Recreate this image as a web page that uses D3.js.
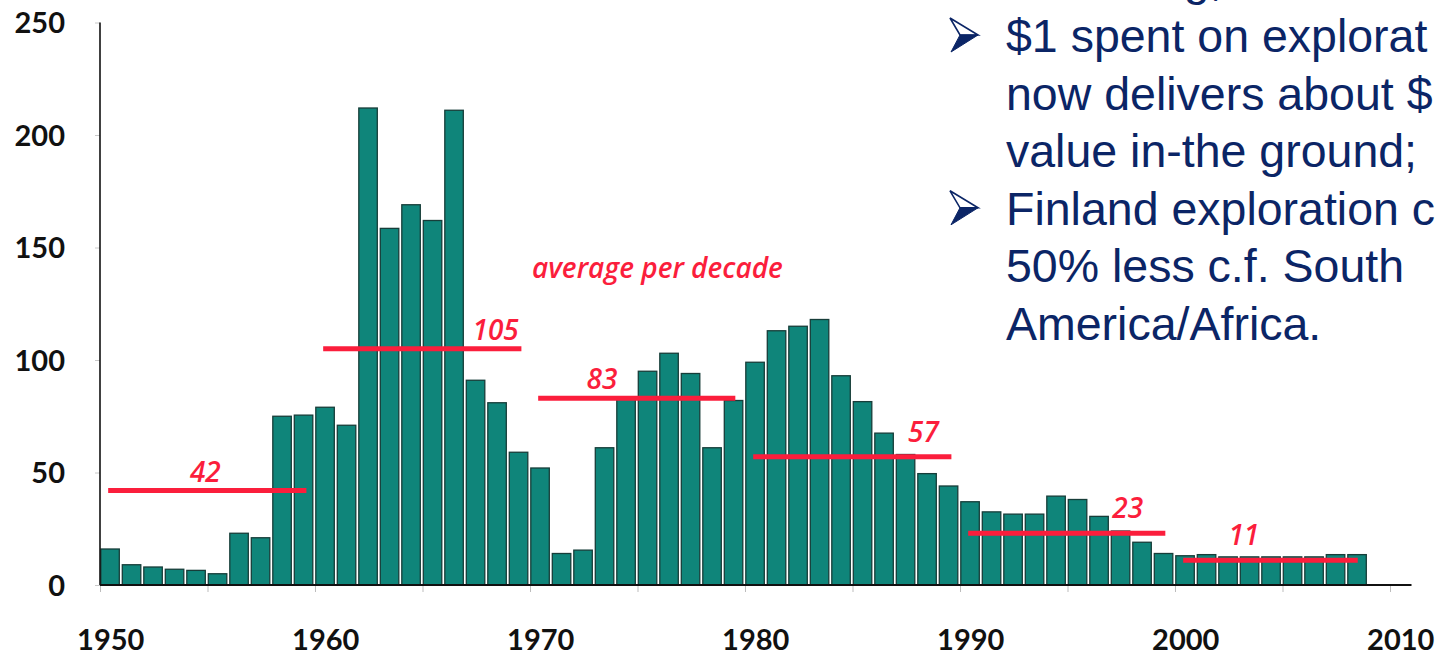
<!DOCTYPE html>
<html>
<head>
<meta charset="utf-8">
<script src="https://cdn.jsdelivr.net/npm/d3@7"></script>
<style>
  html, body { margin: 0; padding: 0; background: #fff; overflow: hidden; }
  svg { display: block; }
</style>
</head>
<body>
<div id="chart"></div>
<script>
// ---- data -----------------------------------------------------------------
const years = d3.range(1950, 2009);
const values = [
  16, 9, 8, 7, 6.5, 5, 23, 21, 75, 75.5,          // 1950s
  79, 71, 212, 158.5, 169, 162, 211, 91, 81, 59,  // 1960s
  52, 14, 15.5, 61, 83, 95, 103, 94, 61, 82,      // 1970s
  99, 113, 115, 118, 93, 81.5, 67.5, 58, 49.5, 44,// 1980s
  37, 32.5, 31.5, 31.5, 39.5, 38, 30.5, 24, 19, 14,// 1990s
  13, 13.5, 12.5, 12.5, 12.5, 12.5, 12.5, 13.5, 13.5 // 2000s
];
const decades = [1950, 1960, 1970, 1980, 1990, 2000];
const decadeAvg = [42, 105, 83, 57, 23, 11];
const avgEnd = [1959.6, 1969.6, 1979.55, 1989.6, 1999.55, 2008.5];
const avgLabelYear = [1954.9, 1968.4, 1973.35, 1988.3, 1997.8, 2003.2];
const yTicks = [0, 50, 100, 150, 200, 250];
const xMinorTicks = d3.range(1950, 2011, 5);
const xLabels = [1950, 1960, 1970, 1980, 1990, 2000, 2010];
const noteLines = [
  "$1 spent on explorat",
  "now delivers about $",
  "value in-the ground;",
  "Finland exploration c",
  "50% less c.f. South",
  "America/Africa."
];
const bulletLines = [0, 3];

// ---- layout ---------------------------------------------------------------
const W = 1441, H = 657;
const BAR = "#0f857a", BAR_EDGE = "#173d39", RED = "#fb1e3c", NAVY = "#0b2566";
const LABEL_FONT = "Lato, 'Open Sans', sans-serif";
const NOTE_FONT = "'Open Sans', Lato, sans-serif";

const svg = d3.select("#chart").append("svg")
  .attr("width", W).attr("height", H)
  .attr("viewBox", `0 0 ${W} ${H}`);

const x = d3.scaleLinear().domain([1950, 2010]).range([100, 1390]);
const y = d3.scaleLinear().domain([0, 250]).range([585, 22.5]);
const step = x(1951) - x(1950);

// ---- bars -----------------------------------------------------------------
svg.append("g")
  .selectAll("rect")
  .data(years.map((yr, i) => ({ yr, v: values[i] })))
  .join("rect")
  .attr("x", (d) => x(d.yr) + 0.8)
  .attr("y", (d) => y(d.v))
  .attr("width", step - 3)
  .attr("height", (d) => y(0) - y(d.v))
  .attr("fill", BAR)
  .attr("stroke", BAR_EDGE)
  .attr("stroke-width", 1.3);

// ---- axes -----------------------------------------------------------------
const yAxis = svg.append("g")
  .attr("transform", `translate(${x(1950)},0)`)
  .call(d3.axisLeft(y).tickValues(yTicks).tickSize(5).tickPadding(30));
yAxis.select(".domain").remove();
yAxis.selectAll(".tick line").attr("stroke", "#c8c8c8");
yAxis.selectAll(".tick text")
  .attr("fill", "#111")
  .style("font", `bold 29px ${LABEL_FONT}`)
  .attr("dy", "0.35em");
svg.append("line")
  .attr("x1", x(1950)).attr("x2", x(1950))
  .attr("y1", y(0)).attr("y2", y(250))
  .attr("stroke", "#111").attr("stroke-width", 1.6);

const xAxis = svg.append("g")
  .attr("transform", `translate(0,${y(0)})`)
  .call(d3.axisBottom(x).tickValues(xMinorTicks).tickSize(7).tickFormat(""));
xAxis.select(".domain").remove();
xAxis.selectAll(".tick line").attr("stroke", "#bdbdbd");
svg.append("line")
  .attr("x1", x(1950)).attr("x2", x(2011))
  .attr("y1", y(0)).attr("y2", y(0))
  .attr("stroke", "#111").attr("stroke-width", 2);

svg.append("g")
  .selectAll("text")
  .data(xLabels)
  .join("text")
  .attr("x", (d) => x(d + 0.5))
  .attr("y", 650)
  .attr("text-anchor", "middle")
  .attr("fill", "#111")
  .style("font", `bold 29px ${LABEL_FONT}`)
  .text((d) => d);

// ---- decade averages ------------------------------------------------------
const avg = decades.map((d, i) => ({ d, v: decadeAvg[i], end: avgEnd[i], lx: avgLabelYear[i] }));
svg.append("g")
  .selectAll("line")
  .data(avg)
  .join("line")
  .attr("x1", (d) => x(d.d + 0.38))
  .attr("x2", (d) => x(d.end))
  .attr("y1", (d) => y(d.v))
  .attr("y2", (d) => y(d.v))
  .attr("stroke", RED)
  .attr("stroke-width", 5);

svg.append("g")
  .selectAll("text")
  .data(avg)
  .join("text")
  .attr("x", (d) => x(d.lx))
  .attr("y", (d, i) => y(d.v) - (i < 3 ? 9 : 15))
  .attr("text-anchor", "middle")
  .attr("fill", RED)
  .style("font", `italic 600 28px ${NOTE_FONT}`)
  .text((d) => d.v);

svg.append("text")
  .attr("x", 532).attr("y", 278)
  .attr("fill", RED)
  .style("font", `italic 600 28px ${NOTE_FONT}`)
  .text("average per decade");

// ---- slide text -----------------------------------------------------------
const TX = 1006, LH = 57.6, BASE = 52;
const notes = svg.append("g").attr("fill", NAVY)
  .style("font", "46.5px 'Liberation Sans', Arial, sans-serif");
notes.append("text").attr("x", TX + 152).attr("y", BASE - LH + 1).text("ng,");
noteLines.forEach((t, i) => {
  notes.append("text").attr("x", TX).attr("y", BASE + i * LH).text(t);
});
bulletLines.forEach((i) => {
  const cy = BASE + i * LH - 17;
  const b = svg.append("g").attr("transform", `translate(950,${cy})`);
  b.append("path")
    .attr("d", "M0,-17 L28,0 L10,0 Z")
    .attr("fill", "#fff").attr("stroke", NAVY).attr("stroke-width", 1.6)
    .attr("stroke-linejoin", "miter");
  b.append("path")
    .attr("d", "M10,0 L28,0 L1,17 Z")
    .attr("fill", NAVY).attr("stroke", NAVY).attr("stroke-width", 1);
});
</script>
</body>
</html>
